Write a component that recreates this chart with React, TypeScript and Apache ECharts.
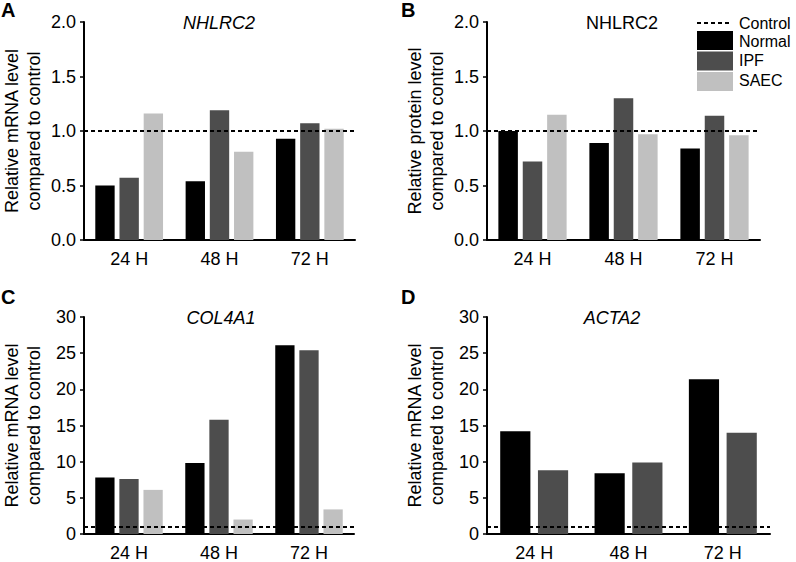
import React, { useEffect, useRef } from 'react';
import * as echarts from 'echarts';

// ---------- data ----------
const categories = ['24 H', '48 H', '72 H'];
const seriesNames = ['Normal', 'IPF', 'SAEC'];
const controlLevel = 1;

// A: NHLRC2 mRNA
const aNormal = [0.5, 0.54, 0.93];
const aIPF = [0.57, 1.19, 1.07];
const aSAEC = [1.16, 0.81, 1.02];
// B: NHLRC2 protein
const bNormal = [1.0, 0.89, 0.84];
const bIPF = [0.72, 1.3, 1.14];
const bSAEC = [1.15, 0.97, 0.96];
// C: COL4A1 mRNA
const cNormal = [7.8, 9.8, 26.1];
const cIPF = [7.6, 15.8, 25.4];
const cSAEC = [6.1, 2.0, 3.4];
// D: ACTA2 mRNA
const dNormal = [14.2, 8.4, 21.4];
const dIPF = [8.8, 9.9, 14.0];

const panelLetters = ['A', 'B', 'C', 'D'];
const panelTitles = ['NHLRC2', 'NHLRC2', 'COL4A1', 'ACTA2'];
const yNames = [
  'Relative mRNA level\ncompared to control',
  'Relative protein level\ncompared to control',
  'Relative mRNA level\ncompared to control',
  'Relative mRNA level\ncompared to control',
];
const yMax = [2, 2, 30, 30];
const yInterval = [0.5, 0.5, 5, 5];
const yDecimals = [1, 1, 0, 0];
const panelSeries = [
  [aNormal, aIPF, aSAEC],
  [bNormal, bIPF, bSAEC],
  [cNormal, cIPF, cSAEC],
  [dNormal, dIPF],
];

// ---------- styles / layout ----------
const FONT = '"Liberation Sans", Arial, Helvetica, sans-serif';
const colors = ['#000000', '#4d4d4d', '#c0c0c0'];
const grids = [
  { left: 81, top: 22, width: 274, height: 218 },
  { left: 487, top: 22, width: 273, height: 218 },
  { left: 80, top: 317, width: 274, height: 219 },
  { left: 487, top: 317, width: 283, height: 219 },
];
const titleItalic = [true, false, true, true];
const titlePos = [
  [219, 23],
  [622, 23],
  [221, 318],
  [612, 318],
];
const letterPos = [
  [1, 10],
  [401, 10],
  [1, 297],
  [401, 297],
];
const catGaps = ['25%', '25%', '25%', '28%'];

export default function App() {
  const ref = useRef<HTMLDivElement>(null);

  useEffect(() => {
    if (!ref.current) return;
    const chart = echarts.init(ref.current, null, { renderer: 'svg' });

    const xAxis = grids.map((_, i) => ({
      type: 'category',
      gridIndex: i,
      data: categories,
      axisLine: { show: true, lineStyle: { color: '#000', width: 2 } },
      axisTick: { show: false },
      axisLabel: { color: '#000', fontSize: 18, fontFamily: FONT, margin: 10 },
    }));

    const yAxis = grids.map((_, i) => ({
      type: 'value',
      gridIndex: i,
      min: 0,
      max: yMax[i],
      interval: yInterval[i],
      name: yNames[i],
      nameLocation: 'middle',
      nameRotate: 90,
      nameGap: 39,
      nameTextStyle: { color: '#000', fontSize: 18, fontFamily: FONT, lineHeight: 22 },
      axisLine: { show: true, onZero: false, lineStyle: { color: '#000', width: 2 } },
      axisTick: { show: true, length: 4, lineStyle: { color: '#000', width: 1.5 } },
      splitLine: { show: false },
      axisLabel: {
        color: '#000',
        fontSize: 18,
        fontFamily: FONT,
        margin: 8,
        formatter: (v: number) => v.toFixed(yDecimals[i]),
      },
    }));

    const series: any[] = [];
    panelSeries.forEach((sets, p) => {
      sets.forEach((data, k) => {
        series.push({
          type: 'bar',
          name: seriesNames[k],
          xAxisIndex: p,
          yAxisIndex: p,
          data,
          barGap: '25%',
          barCategoryGap: catGaps[p],
          itemStyle: { color: colors[k] },
          markLine:
            k === 0
              ? {
                  silent: true,
                  symbol: 'none',
                  label: { show: false },
                  lineStyle: { color: '#000', width: 2, type: [4, 3] },
                  data: [{ yAxis: controlLevel }],
                  z: 10,
                }
              : undefined,
        });
      });
    });

    const graphics: any[] = [];
    panelTitles.forEach((t, i) => {
      graphics.push({
        type: 'text',
        x: titlePos[i][0],
        y: titlePos[i][1],
        style: {
          text: t,
          fill: '#000',
          font: `${titleItalic[i] ? 'italic ' : ''}18px ${FONT}`,
          align: 'center',
          verticalAlign: 'middle',
        },
      });
    });
    panelLetters.forEach((t, i) => {
      graphics.push({
        type: 'text',
        x: letterPos[i][0],
        y: letterPos[i][1],
        style: {
          text: t,
          fill: '#000',
          font: `bold 20px ${FONT}`,
          align: 'left',
          verticalAlign: 'middle',
        },
      });
    });
    // legend
    graphics.push({
      type: 'line',
      shape: { x1: 697, y1: 23, x2: 730, y2: 23 },
      style: { stroke: '#000', lineWidth: 2, lineDash: [4, 3] },
    });
    graphics.push({
      type: 'text',
      x: 739,
      y: 23,
      style: { text: 'Control', fill: '#000', font: `16px ${FONT}`, verticalAlign: 'middle' },
    });
    const legendRowY = [31, 51.5, 72];
    const legendTextY = [41, 60.5, 80];
    seriesNames.forEach((n, k) => {
      graphics.push({
        type: 'rect',
        shape: { x: 697, y: legendRowY[k], width: 36, height: 19 },
        style: { fill: colors[k] },
      });
      graphics.push({
        type: 'text',
        x: 739,
        y: legendTextY[k],
        style: { text: n, fill: '#000', font: `16px ${FONT}`, verticalAlign: 'middle' },
      });
    });

    chart.setOption({
      animation: false,
      backgroundColor: '#fff',
      textStyle: { fontFamily: FONT },
      grid: grids.map((g) => ({ ...g, containLabel: false })),
      xAxis,
      yAxis,
      series,
      graphic: graphics,
    });

    return () => chart.dispose();
  }, []);

  return (
    <div
      ref={ref}
      style={{ position: 'fixed', left: 0, top: 0, width: 796, height: 562, background: '#fff' }}
    />
  );
}
